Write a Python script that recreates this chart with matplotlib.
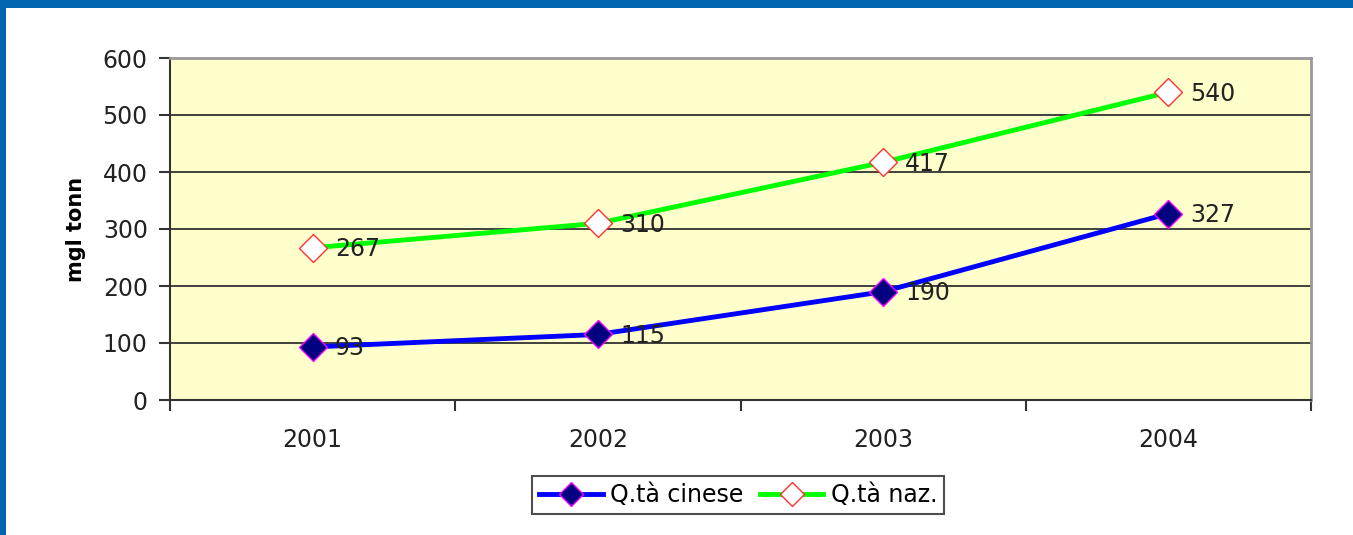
import matplotlib
matplotlib.use("Agg")
import matplotlib.pyplot as plt
import matplotlib.patches as mpatches
import numpy as np

years = ["2001", "2002", "2003", "2004"]
cinese = [93, 115, 190, 327]
naz = [267, 310, 417, 540]
y_ticks = [0, 100, 200, 300, 400, 500, 600]

plt.rcParams['font.family'] = ['DejaVu Sans']

W, H = 1353, 535
fig = plt.figure(figsize=(W / 100, H / 100), dpi=100)
fig.patch.set_facecolor('white')

# blue frame on top and left
fig.add_artist(mpatches.Rectangle((0, 1 - 8 / H), 1, 8 / H, transform=fig.transFigure,
                                  fc='#0066B0', ec='none', zorder=0))
fig.add_artist(mpatches.Rectangle((0, 0), 6 / W, 1, transform=fig.transFigure,
                                  fc='#0066B0', ec='none', zorder=0))

ax = fig.add_axes([170 / W, 135 / H, 1141 / W, 342 / H])
ax.set_facecolor('#FFFFCC')

x = np.arange(len(years))
ax.plot(x, cinese, color='#0000FF', lw=3.5, marker='D', ms=14,
        mfc='#000080', mec='#FF00FF', mew=1, label='Q.tà cinese', zorder=3)
ax.plot(x, naz, color='#00FF00', lw=3.5, marker='D', ms=14,
        mfc='white', mec='#FF3030', mew=1, label='Q.tà naz.', zorder=3)

for xi, v in zip(x, cinese):
    ax.annotate(str(v), (xi, v), xytext=(16, -1), textcoords='offset points',
                va='center', ha='left', fontsize=17, color='#222222', zorder=4)
for xi, v in zip(x, naz):
    ax.annotate(str(v), (xi, v), xytext=(16, -1), textcoords='offset points',
                va='center', ha='left', fontsize=17, color='#222222', zorder=4)

ax.set_xlim(-0.5, 3.5)
ax.set_ylim(0, 600)
ax.set_yticks(y_ticks)
ax.set_yticklabels([str(t) for t in y_ticks], fontsize=17, color='#222222')
ax.set_xticks(np.arange(-0.5, 4.0, 1.0))
ax.set_xticklabels([])
ax.set_xticks(x, minor=True)
ax.set_xticklabels(years, minor=True, fontsize=17, color='#222222')
ax.tick_params(axis='x', which='minor', length=0, pad=20)
ax.tick_params(axis='x', which='major', length=8, width=1.5, direction='out', color='#333333')
ax.tick_params(axis='y', length=8, width=1.5, direction='out', color='#333333', pad=8)

ax.yaxis.grid(True, color='#333333', lw=1.3)
ax.set_axisbelow(True)

for side in ['left', 'bottom']:
    ax.spines[side].set_color('#333333')
    ax.spines[side].set_linewidth(1.5)
for side in ['top', 'right']:
    ax.spines[side].set_color('#999999')
    ax.spines[side].set_linewidth(2)

ax.set_ylabel('mgl tonn', fontsize=15, fontweight='bold', labelpad=12)

leg = fig.legend(loc='center', bbox_to_anchor=(738 / W, 1 - 495 / H), ncol=2,
                 fontsize=17, frameon=True, fancybox=False, edgecolor='#222222',
                 handlelength=2.7, handletextpad=0.3, columnspacing=0.7,
                 borderpad=0.3, markerscale=0.85)
leg.get_frame().set_linewidth(1.5)

fig.savefig('out.png', dpi=100)
